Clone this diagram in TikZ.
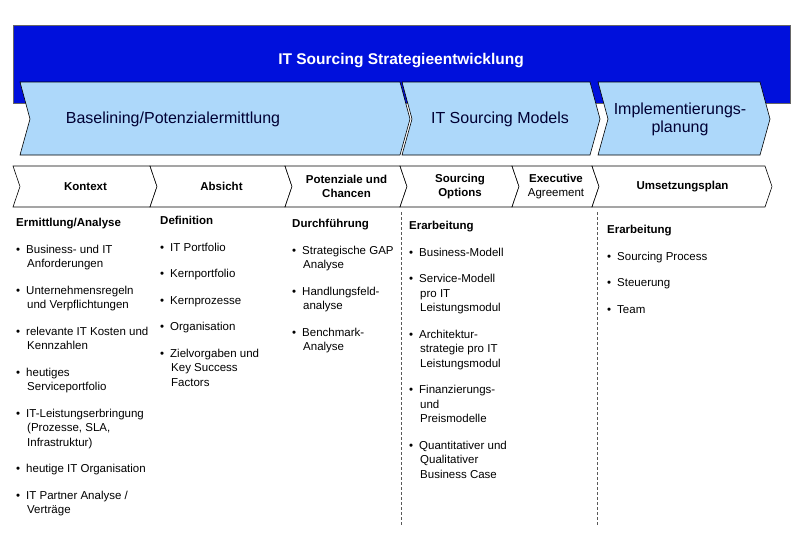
\documentclass[tikz,border=0pt]{standalone}
\usepackage{fontspec}
\setmainfont{Liberation Sans}
\definecolor{lblue}{RGB}{173,216,250}
\definecolor{dblue}{RGB}{0,16,220}
\begin{document}
\begin{tikzpicture}[x=1pt,y=-1pt,
 big/.style={fill=lblue,draw=black,line width=0.6pt},
 small/.style={fill=white,draw=black,line width=0.6pt},
 bt/.style={font=\fontsize{16}{18}\selectfont,text=black!80!blue,align=center},
 st/.style={font=\fontsize{11.5}{14}\selectfont\bfseries,align=center},
 col/.style={anchor=north west,align=left,font=\fontsize{11.5}{14.5}\selectfont,inner sep=0pt},
 dashline/.style={densely dashed,gray!70!black,line width=0.6pt}]
\useasboundingbox (0,0) rectangle (800,539);
\fill[white] (0,0) rectangle (800,539);
\fill[fill=dblue,draw=black!60] (13,25) rectangle (790,103);
\node[font=\fontsize{15.5}{18}\selectfont\bfseries,text=white] (title) at (401,61) {IT Sourcing Strategieentwicklung};
% big chevrons
\draw[big] (20,82) -- (400,82) -- (410,119) -- (400,155) -- (20,155) -- (30,119) -- cycle;
\draw[big] (402,82) -- (590,82) -- (600,119) -- (590,155) -- (402,155) -- (412,119) -- cycle;
\draw[big] (598,82) -- (760,82) -- (770,119) -- (760,155) -- (598,155) -- (608,119) -- cycle;
\node[bt] (b1) at (173,119) {Baselining/Potenzialermittlung};
\node[bt] (b2) at (500,119) {IT Sourcing Models};
\node[bt] (b3) at (680,119) {Implementierungs-\\planung};
% small chevrons
\foreach \a/\b/\n in {13/150/k1,150/285/k2,285/400/k3,400/512/k4,512/592/k5,592/765/k6}{
 \draw[small] (\a,166) -- (\b,166) -- (\b+7,186.5) -- (\b,207) -- (\a,207) -- (\a+7,186.5) -- cycle;
 \coordinate (\n) at ({(\a+\b)/2+4},186.5);}
\node[st] at (k1) {Kontext};
\node[st] at (k2) {Absicht};
\node[st] at (k3) {Potenziale und\\Chancen};
\node[st] at (k4) {Sourcing\\Options};
\node[st] at (k5) {Executive\\\mdseries Agreement};
\node[st] at (k6) {Umsetzungsplan};
\coordinate (d1a) at (401,212); \coordinate (d1b) at (401,525);
\coordinate (d2a) at (597,212); \coordinate (d2b) at (597,525);
\draw[dashline] (d1a) -- (d1b);
\draw[dashline] (d2a) -- (d2b);
\node[col] (c1) at (16,218) {\textbf{Ermittlung/Analyse}\\[12pt]
\textbullet\hspace{6pt}Business- und IT\\\hspace*{11pt}Anforderungen\\[12pt]
\textbullet\hspace{6pt}Unternehmensregeln\\\hspace*{11pt}und Verpflichtungen\\[12pt]
\textbullet\hspace{6pt}relevante IT Kosten und\\\hspace*{11pt}Kennzahlen\\[12pt]
\textbullet\hspace{6pt}heutiges\\\hspace*{11pt}Serviceportfolio\\[12pt]
\textbullet\hspace{6pt}IT-Leistungserbringung\\\hspace*{11pt}(Prozesse, SLA,\\\hspace*{11pt}Infrastruktur)\\[12pt]
\textbullet\hspace{6pt}heutige IT Organisation\\[12pt]
\textbullet\hspace{6pt}IT Partner Analyse /\\\hspace*{11pt}Verträge};
\node[col] (c2) at (160,216) {\textbf{Definition}\\[12pt]
\textbullet\hspace{6pt}IT Portfolio\\[12pt]
\textbullet\hspace{6pt}Kernportfolio\\[12pt]
\textbullet\hspace{6pt}Kernprozesse\\[12pt]
\textbullet\hspace{6pt}Organisation\\[12pt]
\textbullet\hspace{6pt}Zielvorgaben und\\\hspace*{11pt}Key Success\\\hspace*{11pt}Factors};
\node[col] (c3) at (292,219) {\textbf{Durchführung}\\[12pt]
\textbullet\hspace{6pt}Strategische GAP\\\hspace*{11pt}Analyse\\[12pt]
\textbullet\hspace{6pt}Handlungsfeld-\\\hspace*{11pt}analyse\\[12pt]
\textbullet\hspace{6pt}Benchmark-\\\hspace*{11pt}Analyse};
\node[col] (c4) at (409,221) {\textbf{Erarbeitung}\\[12pt]
\textbullet\hspace{6pt}Business-Modell\\[12pt]
\textbullet\hspace{6pt}Service-Modell\\\hspace*{11pt}pro IT\\\hspace*{11pt}Leistungsmodul\\[12pt]
\textbullet\hspace{6pt}Architektur-\\\hspace*{11pt}strategie pro IT\\\hspace*{11pt}Leistungsmodul\\[12pt]
\textbullet\hspace{6pt}Finanzierungs-\\\hspace*{11pt}und\\\hspace*{11pt}Preismodelle\\[12pt]
\textbullet\hspace{6pt}Quantitativer und\\\hspace*{11pt}Qualitativer\\\hspace*{11pt}Business Case};
\node[col] (c6) at (607,225) {\textbf{Erarbeitung}\\[12pt]
\textbullet\hspace{6pt}Sourcing Process\\[12pt]
\textbullet\hspace{6pt}Steuerung\\[12pt]
\textbullet\hspace{6pt}Team};
\end{tikzpicture}
\end{document}
